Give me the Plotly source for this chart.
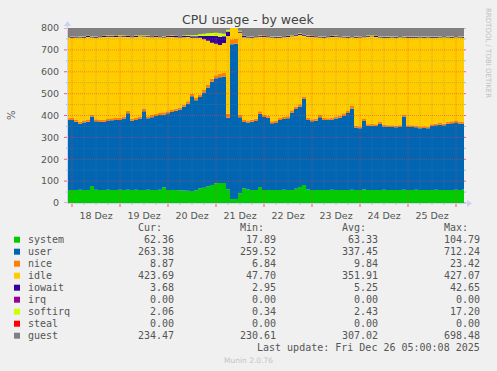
import pandas as pd
import plotly.graph_objects as go

# ---------------- data (2-hour samples) ----------------
times = pd.date_range("2025-12-17 22:00", periods=100, freq="2h")

system = [60,59,60,61,60,59,78,61,60,60,
          61,60,60,61,60,61,60,61,60,60,
          61,60,60,61,72,60,60,59,58,57,
          56,55,58,68,70,75,82,90,92,91,
          63,18,18,45,68,62,60,60,73,60,
          60,59,60,60,61,60,60,65,73,82,
          62,60,60,59,60,60,61,60,59,60,
          60,61,60,59,62,60,60,59,60,61,
          60,60,59,60,61,60,60,61,60,59,
          60,60,61,60,60,59,60,61,60,62]

user = [319,321,312,301,308,313,317,313,310,312,
        314,318,319,319,326,349,316,319,326,360,
        327,332,338,341,333,350,356,363,370,383,
        399,433,412,417,435,453,473,480,483,487,
        327,708,710,347,302,306,312,315,335,333,
        330,306,306,320,323,328,354,365,367,393,
        318,314,316,333,320,319,321,326,331,340,
        351,371,285,283,313,292,293,293,304,289,
        287,288,287,288,334,287,288,285,282,284,
        282,292,295,298,296,303,305,305,304,300]

nice = [9,9,10,9,9,10,9,9,9,10,
        9,9,10,9,9,11,9,9,10,12,
        9,10,9,9,10,9,9,10,9,10,
        10,11,10,11,12,12,13,14,15,16,
        18,23,22,12,10,9,9,10,11,9,
        9,9,10,9,9,9,10,11,11,12,
        9,9,9,10,9,9,9,9,10,10,
        10,11,8,8,9,8,8,8,9,8,
        8,8,8,8,10,8,8,8,8,8,
        8,8,8,8,8,9,9,9,9,9]

idle = [370,367,372,386,379,377,353,372,379,377,
        376,373,370,372,365,338,373,370,366,329,
        363,356,352,347,342,340,334,326,320,308,
        294,256,275,260,232,202,165,144,132,138,
        356,54,53,374,378,377,375,373,341,357,
        359,383,380,367,365,362,338,324,317,278,
        371,376,373,355,367,370,368,365,358,347,
        335,315,403,407,374,400,401,399,384,398,
        401,401,402,402,352,401,399,402,407,405,
        407,396,391,391,394,386,382,383,384,385]

iowait = [4,4,4,4,4,4,4,4,4,4,
          4,4,4,4,4,4,4,5,4,4,
          4,4,4,4,4,4,5,5,5,6,
          6,7,7,8,15,22,30,35,38,30,
          20,5,5,6,5,4,4,4,4,4,
          4,4,4,4,4,4,4,5,6,5,
          4,4,4,4,4,4,4,4,4,4,
          4,4,4,4,4,4,4,4,4,4,
          4,4,4,4,4,4,4,4,4,4,
          4,4,4,4,4,4,4,4,4,4]

irq = [0,0,0,0,0,0,0,0,0,0, 0,0,0,0,0,0,0,0,0,0,
       0,0,0,0,0,0,0,0,0,0, 0,0,0,0,0,0,0,0,0,0,
       0,0,0,0,0,0,0,0,0,0, 0,0,0,0,0,0,0,0,0,0,
       0,0,0,0,0,0,0,0,0,0, 0,0,0,0,0,0,0,0,0,0,
       0,0,0,0,0,0,0,0,0,0, 0,0,0,0,0,0,0,0,0,0]

softirq = [2,2,2,2,2,2,2,2,2,2,
           2,2,2,2,2,2,2,2,2,2,
           2,2,2,2,2,2,2,2,2,2,
           3,5,6,8,10,12,14,15,16,12,
           8,4,4,3,2,2,2,2,2,2,
           2,2,2,2,2,2,2,2,2,2,
           2,2,2,2,2,2,2,2,2,2,
           2,2,2,2,2,2,2,2,2,2,
           2,2,2,2,2,2,2,2,2,2,
           2,2,2,2,2,2,2,2,2,2]

steal = [0,0,0,0,0,0,0,0,0,0, 0,0,0,0,0,0,0,0,0,0,
         0,0,0,0,0,0,0,0,0,0, 0,0,0,0,0,0,0,0,0,0,
         0,0,0,0,0,0,0,0,0,0, 0,0,0,0,0,0,0,0,0,0,
         0,0,0,0,0,0,0,0,0,0, 0,0,0,0,0,0,0,0,0,0,
         0,0,0,0,0,0,0,0,0,0, 0,0,0,0,0,0,0,0,0,0]

guest = [236,238,240,237,235,236,239,241,236,235,
         234,236,237,235,238,240,236,235,237,239,
         236,238,235,236,240,237,236,238,240,242,
         245,250,255,262,270,285,300,320,340,330,
         300,250,248,240,236,238,237,236,235,238,
         236,237,238,236,235,237,240,244,246,242,
         236,235,236,238,236,235,236,237,236,235,
         236,238,236,235,237,236,235,236,238,236,
         235,236,235,236,237,235,236,235,236,235,
         236,235,236,237,235,236,235,236,235,234]

series_names = ["system", "user", "nice", "idle", "iowait", "irq", "softirq", "steal", "guest"]
series_values = [system, user, nice, idle, iowait, irq, softirq, steal, guest]
series_colors = ["#00CC00", "#0066B3", "#FF8000", "#FFCC00", "#330099",
                 "#990099", "#CCFF00", "#FF0000", "#808080"]

cur_vals = ["62.36", "263.38", "8.87", "423.69", "3.68", "0.00", "2.06", "0.00", "234.47"]
min_vals = ["17.89", "259.52", "6.84", "47.70", "2.95", "0.00", "0.34", "0.00", "230.61"]
avg_vals = ["63.33", "337.45", "9.84", "351.91", "5.25", "0.00", "2.43", "0.00", "307.02"]
max_vals = ["104.79", "712.24", "23.42", "427.07", "42.65", "0.00", "17.20", "0.00", "698.48"]

y_ticks = [0, 100, 200, 300, 400, 500, 600, 700, 800]
day_ticks = ["2025-12-%02d 12:00" % d for d in range(18, 26)]
day_labels = ["%d Dez" % d for d in range(18, 26)]

# ---------------- layout geometry ----------------
W, H = 497, 371
L, R, T, B = 68, 464, 28, 203
PW, PH = R - L, B - T


def pxx(x):
    return (x - L) / PW


def pxy(y):
    return (B - y) / PH


fig = go.Figure()
for name, vals, col in zip(series_names, series_values, series_colors):
    fig.add_trace(go.Scatter(
        x=times, y=vals, name=name, stackgroup="one", mode="lines",
        line=dict(width=0, color=col, shape="hvh"), fillcolor=col, showlegend=False,
        hoverinfo="skip"))

shapes = []
MAJ = "rgba(235,70,60,0.5)"
MIN = "rgba(120,120,120,0.35)"
TICKMIN = "#b8b8b8"
TICKMAJ = "rgba(240,60,60,0.8)"

# vertical grid every 6 hours
grid_times = pd.date_range("2025-12-18 00:00", "2025-12-26 00:00", freq="6h")
for t in grid_times:
    major = t.hour == 0
    shapes.append(dict(type="line", xref="x", yref="paper", x0=t, x1=t, y0=0, y1=1,
                       line=dict(color=MAJ if major else MIN, width=1, dash="1px,1px"),
                       layer="above"))
    shapes.append(dict(type="line", xref="x", yref="paper", x0=t, x1=t, y0=pxy(203),
                       y1=pxy(207 if major else 205),
                       line=dict(color=TICKMAJ if major else TICKMIN, width=1), layer="above"))

# horizontal grid every 50
for v in range(50, 800, 50):
    major = v % 100 == 0
    shapes.append(dict(type="line", xref="paper", yref="y", x0=0, x1=1, y0=v, y1=v,
                       line=dict(color=MAJ if major else MIN, width=1, dash="1px,1px"),
                       layer="above"))
for v in range(0, 801, 50):
    major = v % 100 == 0
    shapes.append(dict(type="line", xref="paper", yref="y", x0=pxx(L - (4 if major else 2)),
                       x1=pxx(L), y0=v, y1=v,
                       line=dict(color=TICKMAJ if major else TICKMIN, width=1), layer="above"))
    shapes.append(dict(type="line", xref="paper", yref="y", x0=pxx(R), x1=pxx(R + 2),
                       y0=v, y1=v, line=dict(color=TICKMAJ if major else TICKMIN, width=1),
                       layer="above"))

# axis lines with arrow heads
AX = "#c9d2f5"
shapes.append(dict(type="line", xref="paper", yref="paper", x0=pxx(L - 1), x1=pxx(R + 5),
                   y0=pxy(B + 0.5), y1=pxy(B + 0.5), line=dict(color=AX, width=1), layer="above"))
shapes.append(dict(type="line", xref="paper", yref="paper", x0=pxx(L - 0.5), x1=pxx(L - 0.5),
                   y0=pxy(B + 1), y1=pxy(T - 3), line=dict(color=AX, width=1), layer="above"))
shapes.append(dict(type="path", xref="paper", yref="paper",
                   path="M %f %f L %f %f L %f %f Z" % (pxx(R + 3), pxy(B - 3), pxx(R + 8), pxy(B + 0.5),
                                                      pxx(R + 3), pxy(B + 4)),
                   fillcolor=AX, line=dict(width=0), layer="above"))
shapes.append(dict(type="path", xref="paper", yref="paper",
                   path="M %f %f L %f %f L %f %f Z" % (pxx(L - 4), pxy(T - 2), pxx(L - 0.5), pxy(T - 7),
                                                      pxx(L + 3), pxy(T - 2)),
                   fillcolor=AX, line=dict(width=0), layer="above"))

annotations = []
TXT = "#555555"
MONO = "DejaVu Sans Mono"

annotations.append(dict(text="CPU usage - by week", x=pxx(248), y=pxy(19), xref="paper", yref="paper",
                        showarrow=False, xanchor="center", yanchor="middle",
                        font=dict(family="DejaVu Sans", size=12.5, color="#444444")))
annotations.append(dict(text="%", x=pxx(11), y=pxy(115), xref="paper", yref="paper",
                        showarrow=False, textangle=-90, xanchor="center", yanchor="middle",
                        font=dict(family="DejaVu Sans", size=10, color=TXT)))
annotations.append(dict(text="RRDTOOL / TOBI OETIKER", x=pxx(488), y=pxy(53), xref="paper",
                        yref="paper", showarrow=False, textangle=90, xanchor="center",
                        yanchor="middle", font=dict(family="DejaVu Sans", size=7, color="#c0c0c0")))
annotations.append(dict(text="Munin 2.0.76", x=pxx(248), y=pxy(360), xref="paper", yref="paper",
                        showarrow=False, xanchor="center", yanchor="middle",
                        font=dict(family="DejaVu Sans", size=7.5, color="#c4c4c4")))

# legend table
for txt, xr in zip(["Cur:", "Min:", "Avg:", "Max:"], [164, 266, 368, 470]):
    annotations.append(dict(text=txt, x=pxx(xr), y=pxy(227.5), xref="paper", yref="paper",
                            showarrow=False, xanchor="right", yanchor="middle",
                            font=dict(family=MONO, size=10, color=TXT)))
for k, name in enumerate(series_names):
    yrow = 239.7 + 12 * k
    shapes.append(dict(type="rect", xref="paper", yref="paper", x0=pxx(14), x1=pxx(20),
                       y0=pxy(yrow - 3), y1=pxy(yrow + 3), fillcolor=series_colors[k],
                       line=dict(width=0)))
    annotations.append(dict(text=name, x=pxx(26), y=pxy(yrow), xref="paper", yref="paper",
                            showarrow=False, xanchor="left", yanchor="middle",
                            font=dict(family=MONO, size=10, color=TXT)))
    for vals, xr in zip([cur_vals, min_vals, avg_vals, max_vals], [176, 278, 380, 482]):
        annotations.append(dict(text=vals[k], x=pxx(xr), y=pxy(yrow), xref="paper", yref="paper",
                                showarrow=False, xanchor="right", yanchor="middle",
                                font=dict(family=MONO, size=10, color=TXT)))
annotations.append(dict(text="Last update: Fri Dec 26 05:00:08 2025", x=pxx(482), y=pxy(347.7),
                        xref="paper", yref="paper", showarrow=False, xanchor="right",
                        yanchor="middle", font=dict(family=MONO, size=10, color=TXT)))

fig.update_layout(
    width=W, height=H,
    margin=dict(l=L, r=W - R, t=T, b=H - B, pad=0),
    paper_bgcolor="#F0F0F0", plot_bgcolor="#F0F0F0",
    showlegend=False,
    xaxis=dict(range=[times[0], times[-1]], tickvals=day_ticks, ticktext=day_labels,
               showgrid=False, zeroline=False, ticks="outside", ticklen=4,
               tickcolor="rgba(0,0,0,0)", tickfont=dict(family="DejaVu Sans", size=9.5, color=TXT),
               showline=False, fixedrange=True),
    yaxis=dict(range=[0, 800], tickvals=y_ticks, ticktext=[str(v) for v in y_ticks],
               showgrid=False, zeroline=False, ticks="outside", ticklen=6,
               tickcolor="rgba(0,0,0,0)", tickfont=dict(family="DejaVu Sans", size=9.5, color=TXT),
               showline=False, fixedrange=True),
    shapes=shapes, annotations=annotations,
)

fig.write_html("out.html", config={"displayModeBar": False},
               post_script="document.body.style.margin='0';document.body.style.background='#F0F0F0';")
